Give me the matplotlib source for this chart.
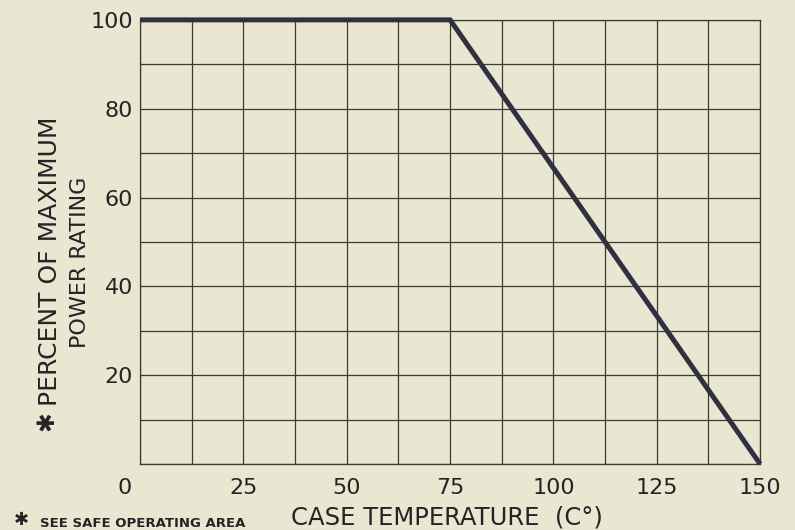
import numpy as np
import matplotlib.pyplot as plt

# derating curve
case_temp = [0, 75, 150]
power_pct = [100, 100, 0]

x_ticks = [25, 50, 75, 100, 125, 150]
x_labels = ['25', '50', '75', '100', '125', '150']
y_ticks = [20, 40, 60, 80, 100]
y_labels = ['20', '40', '60', '80', '100']

bg = '#e9e6d2'
ink = '#2f3140'
grid_ink = '#3d3b30'
txt = '#242424'

fig = plt.figure(figsize=(7.95, 5.3), dpi=100)
fig.patch.set_facecolor(bg)
ax = fig.add_axes([0.1761, 0.1245, 0.780, 0.838])
ax.set_facecolor(bg)

ax.set_xlim(0, 150)
ax.set_ylim(0, 100)

# grid every 12.5 deg and every 10 percent
for gx in np.arange(0, 150.1, 12.5):
    ax.axvline(gx, color=grid_ink, lw=0.9, zorder=1)
for gy in np.arange(0, 100.1, 10):
    ax.axhline(gy, color=grid_ink, lw=0.9, zorder=1)

ax.plot(case_temp, power_pct, color=ink, lw=3.6, solid_capstyle='butt',
        solid_joinstyle='miter', zorder=3, clip_on=False)

for s in ax.spines.values():
    s.set_color(grid_ink)
    s.set_linewidth(0.9)

ax.set_xticks(x_ticks)
ax.set_xticklabels(x_labels)
ax.set_yticks(y_ticks)
ax.set_yticklabels(y_labels)
ax.tick_params(length=0, labelsize=16, colors=txt)
ax.tick_params(axis='x', pad=10)
ax.tick_params(axis='y', pad=5)

# shared origin label
ax.annotate('0', xy=(0, 0), xytext=(-11, -10), textcoords='offset points',
            ha='center', va='top', fontsize=16, color=txt)

# y axis title, two lines of different size
fig.text(0.063, 1 - 261.5 / 530, 'PERCENT OF MAXIMUM', rotation=90,
         ha='center', va='center', fontsize=18, color=txt)
fig.text(0.059, 1 - 421 / 530, '✱', rotation=90,
         ha='center', va='center', fontsize=17, color=txt)
fig.text(0.1, 1 - 262.5 / 530, 'POWER RATING', rotation=90,
         ha='center', va='center', fontsize=16, color=txt)

fig.text(447 / 795, 1 - 506 / 530, 'CASE TEMPERATURE  (C°)', ha='center',
         va='top', fontsize=17.5, color=txt)
fig.text(0.018, 1 - 511 / 530, '✱', ha='left', va='top', fontsize=13,
         color=txt)
fig.text(40 / 795, 1 - 517 / 530, 'SEE SAFE OPERATING AREA', ha='left',
         va='top', fontsize=9.5, fontweight='bold', color=txt)

fig.savefig('out.png', dpi=100, facecolor=bg)
